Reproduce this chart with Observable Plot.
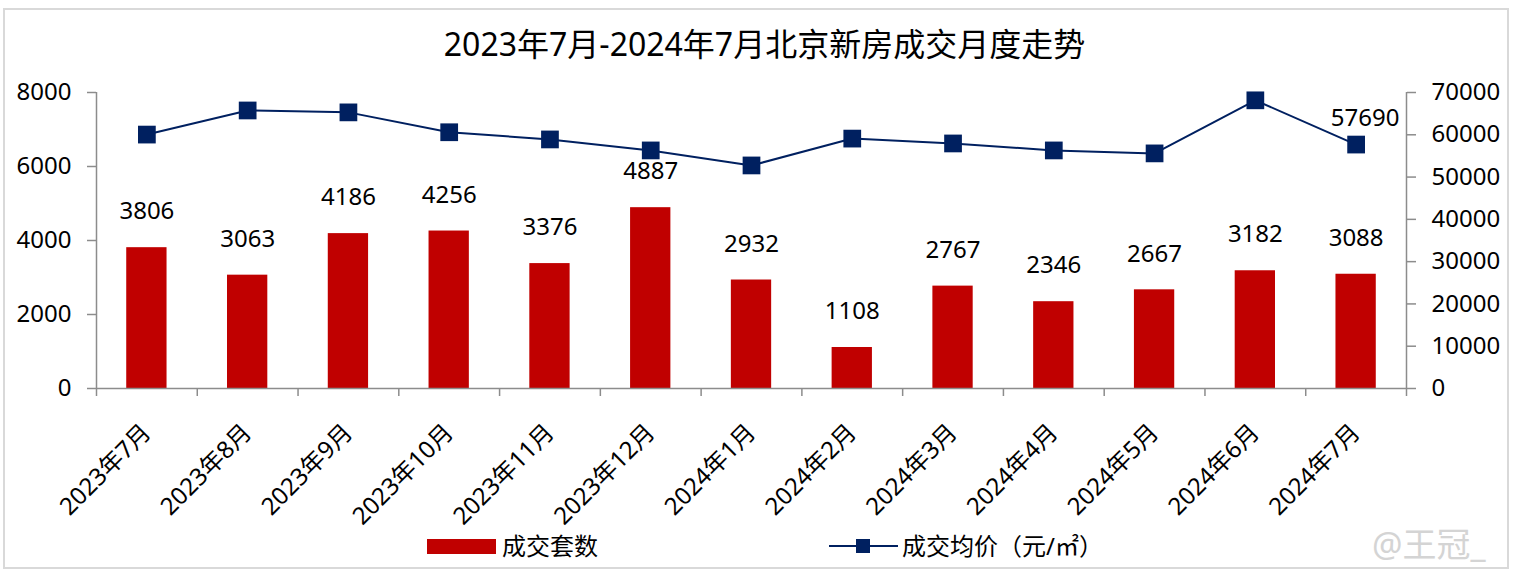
<!DOCTYPE html>
<html>
<head>
<meta charset="utf-8">
<script src="https://cdn.jsdelivr.net/npm/d3@7"></script>
<script src="https://cdn.jsdelivr.net/npm/@observablehq/plot@0.6"></script>
<style>
  body { margin: 0; background: #fff; }
  #wrap { position: relative; width: 1521px; height: 581px; overflow: hidden; font-family: 'Noto Sans', 'Noto Sans CJK SC', sans-serif; color: #000; }
  #border { position: absolute; left: 3px; top: 8px; width: 1502px; height: 557px; border: 2px solid #d9d9d9; }
  #title { position: absolute; left: 4px; width: 1521px; top: 26px; text-align: center; font-size: 32px; line-height: 36px; }
  #chart { position: absolute; left: 0; top: 70px; }
  .lg { position: absolute; font-size: 24px; line-height: 30px; top: 531px; }
  #wm { position: absolute; left: 1372px; top: 524px; font-size: 34px; line-height: 40px; color: #d4d4d4; }
</style>
</head>
<body>
<div id="wrap">
  <div id="border"></div>
  <div id="title">2023年7月-2024年7月北京新房成交月度走势</div>
  <div id="chart"></div>
  <div style="position:absolute;left:427px;top:539px;width:69px;height:15px;background:#C00000"></div>
  <div class="lg" style="left:502px">成交套数</div>
  <div style="position:absolute;left:829px;top:545px;width:69px;height:2px;background:#002060"></div>
  <div style="position:absolute;left:856px;top:539px;width:14px;height:14px;background:#002060"></div>
  <div class="lg" style="left:902px">成交均价（元/㎡）</div>
  <div id="wm">@王冠_</div>
</div>
<script>
const months = ["2023年7月","2023年8月","2023年9月","2023年10月","2023年11月","2023年12月","2024年1月","2024年2月","2024年3月","2024年4月","2024年5月","2024年6月","2024年7月"];
const deals = [3806, 3063, 4186, 4256, 3376, 4887, 2932, 1108, 2767, 2346, 2667, 3182, 3088];
const prices = [60050, 65750, 65300, 60600, 58900, 56300, 52750, 59100, 57950, 56300, 55600, 68150, 57690];
const leftTicks = [0, 2000, 4000, 6000, 8000];
const rightTicks = [0, 10000, 20000, 30000, 40000, 50000, 60000, 70000];

const k = 8000 / 70000;
const rows = months.map((m, i) => ({month: m, deals: deals[i], price: prices[i], py: prices[i] * k}));
const W = 1521, mL = 96, mR = 115;
const step = (W - mL - mR) / months.length;
const axisGray = "#8c8c8c";

const chart = Plot.plot({
  width: W,
  height: 460,
  marginLeft: mL,
  marginRight: mR,
  marginTop: 22,
  marginBottom: 142,
  style: {fontFamily: "'Noto Sans', 'Noto Sans CJK SC', sans-serif", fontSize: "24px", color: "#000", background: "transparent"},
  x: {domain: months, paddingInner: 0.6, paddingOuter: 0.3, round: false, axis: null},
  y: {domain: [0, 8000], axis: null},
  marks: [
    Plot.barY(rows, {x: "month", y: "deals", fill: "#C00000"}),
    Plot.ruleY([0], {stroke: axisGray, strokeWidth: 1.5}),
    Plot.ruleX([months[0]], {x: d => d, y1: 0, y2: 8000, dx: -step / 2, stroke: axisGray, strokeWidth: 1.5}),
    Plot.ruleX([months[months.length - 1]], {x: d => d, y1: 0, y2: 8000, dx: step / 2, stroke: axisGray, strokeWidth: 1.5}),
    Plot.ruleX(months, {x: d => d, y1: 0, y2: 0, insetBottom: -8, dx: -step / 2, stroke: axisGray, strokeWidth: 1.5}),
    Plot.ruleX([months[months.length - 1]], {x: d => d, y1: 0, y2: 0, insetBottom: -8, dx: step / 2, stroke: axisGray, strokeWidth: 1.5}),
    Plot.axisY({anchor: "left", ticks: leftTicks, tickFormat: d3.format("d"), tickSize: 9, tickPadding: 16, stroke: axisGray, strokeWidth: 1.5, fontSize: 24, label: null}),
    Plot.axisY({anchor: "right", ticks: rightTicks.map(v => v * k), tickFormat: d => String(Math.round(d / k)), tickSize: 9, tickPadding: 16, stroke: axisGray, strokeWidth: 1.5, fontSize: 24, label: null}),
    Plot.axisX({tickRotate: -45, tickSize: 0, tickPadding: 40, fontSize: 24, label: null}),
    Plot.text(rows, {x: "month", y: "deals", text: d => String(d.deals), dy: -36, fontSize: 24, fill: "#000"}),
    Plot.line(rows, {x: "month", y: "py", stroke: "#002060", strokeWidth: 2}),
    Plot.dot(rows, {x: "month", y: "py", symbol: "square", r: 10, fill: "#002060", stroke: "none"}),
    Plot.text([rows[rows.length - 1]], {x: "month", y: "py", text: d => String(d.price), dy: -26, dx: 9, fontSize: 24, fill: "#000"})
  ]
});
document.getElementById("chart").appendChild(chart);
</script>
</body>
</html>
